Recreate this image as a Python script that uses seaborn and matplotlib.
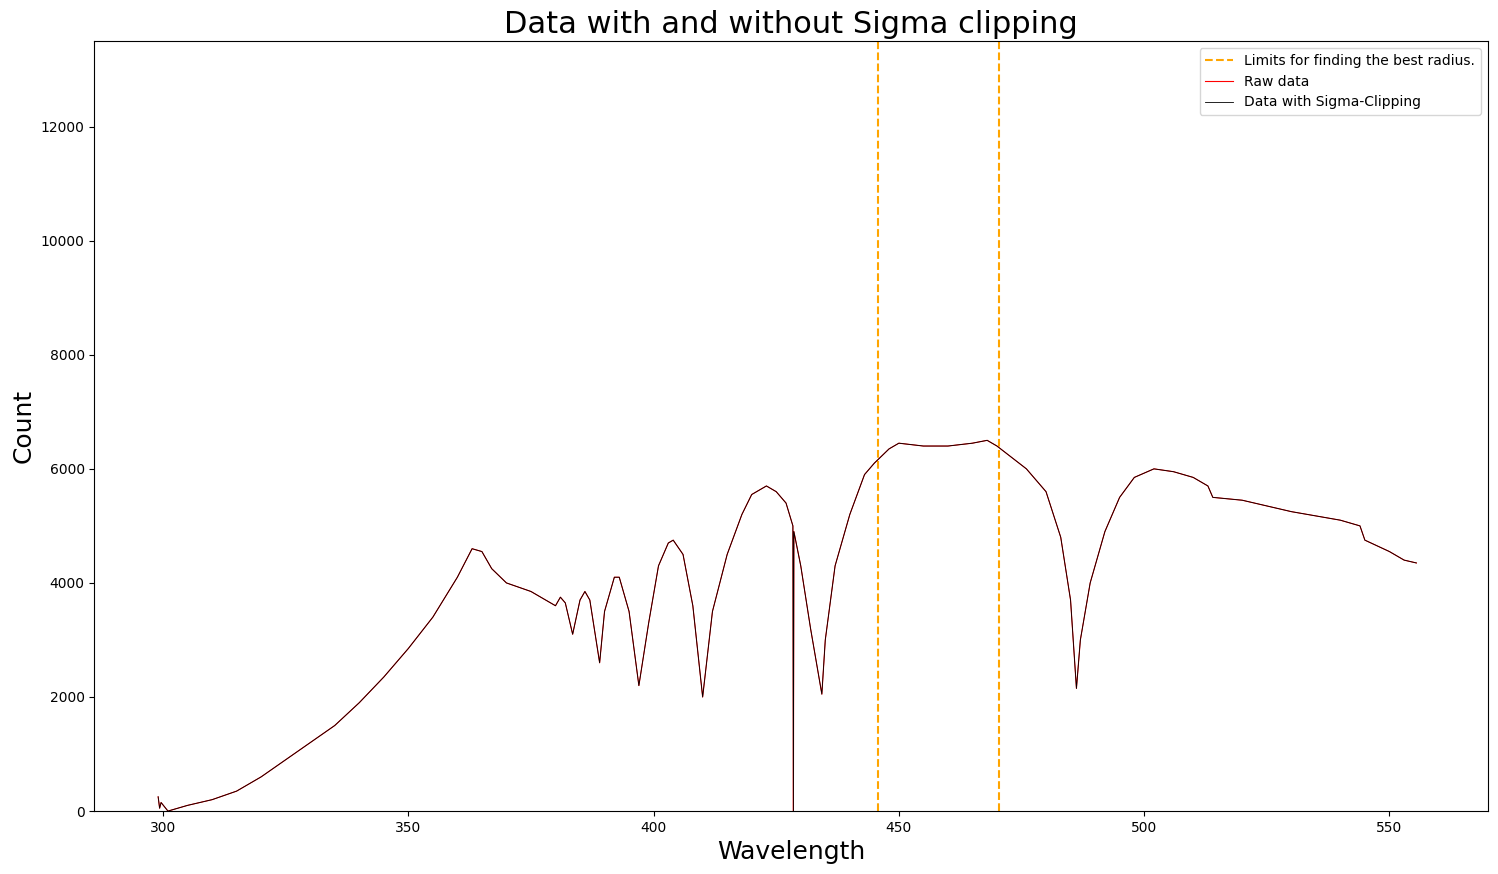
import numpy as np
import pandas as pd
import matplotlib
matplotlib.use("Agg")
import matplotlib.pyplot as plt
import seaborn as sns

# anchor points
wavelength = [299, 299.3, 299.6, 301, 303, 305, 310, 315, 320, 325, 330, 335, 340, 345, 350,
              355, 360, 363, 365, 367, 370, 375, 380, 381, 382, 383.5, 385, 386, 387, 389,
              390, 392, 393, 395, 397, 399, 401, 403, 404, 406, 408, 410, 412, 415, 418,
              420, 423, 425, 427, 428.4, 428.5, 428.6, 430, 432, 434.3, 435, 437, 440, 443,
              445, 448, 450, 455, 460, 465, 468, 470, 473, 476, 480, 483, 485, 486.2, 487,
              489, 492, 495, 498, 502, 506, 510, 513, 514, 520, 530, 540, 544, 545, 550,
              553, 555.5]
count = [250, 50, 150, 0, 50, 100, 200, 350, 600, 900, 1200, 1500, 1900, 2350, 2850,
         3400, 4100, 4600, 4550, 4250, 4000, 3850, 3600, 3750, 3650, 3100, 3700, 3850, 3700, 2600,
         3500, 4100, 4100, 3500, 2200, 3300, 4300, 4700, 4750, 4500, 3600, 2000, 3500, 4500, 5200,
         5550, 5700, 5600, 5400, 5000, 0, 4900, 4300, 3200, 2050, 3000, 4300, 5200, 5900,
         6100, 6350, 6450, 6400, 6400, 6450, 6500, 6400, 6200, 6000, 5600, 4800, 3700, 2150, 3000,
         4000, 4900, 5500, 5850, 6000, 5950, 5850, 5700, 5500, 5450, 5250, 5100, 5000, 4750, 4550,
         4400, 4350]
clipped = list(count)
limits = [445.8, 470.5]

df = pd.DataFrame({"Wavelength": wavelength, "raw": count, "clip": clipped})

fig, ax = plt.subplots(figsize=(14.98, 8.74), dpi=100)
for i, x in enumerate(limits):
    ax.axvline(x, color="orange", linestyle="--", linewidth=1.5,
               label="Limits for finding the best radius." if i == 0 else None)
sns.lineplot(data=df, x="Wavelength", y="raw", color="red", linewidth=0.8,
             label="Raw data", ax=ax, sort=False)
sns.lineplot(data=df, x="Wavelength", y="clip", color="black", linewidth=0.6,
             label="Data with Sigma-Clipping", ax=ax, sort=False)
ax.set_xlim(286, 570)
ax.set_ylim(0, 13500)
ax.set_title("Data with and without Sigma clipping", fontsize=22)
ax.set_xlabel("Wavelength", fontsize=18)
ax.set_ylabel("Count", fontsize=18)
leg = ax.legend(loc="upper right")
leg.get_lines()[1].set_color("red")
fig.subplots_adjust(left=0.063, right=0.993, top=0.953, bottom=0.072)
fig.savefig("out.png", dpi=100)
